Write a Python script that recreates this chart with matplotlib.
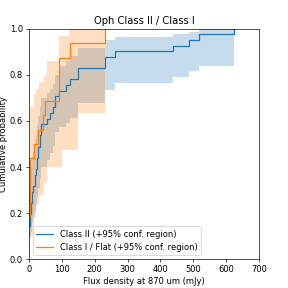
import matplotlib
matplotlib.use("Agg")
import matplotlib.pyplot as plt
import numpy as np

# Class II (blue) cumulative distribution
c2_x = [1, 5, 8, 11, 14, 18, 22, 25, 28, 33, 38, 54, 64, 74, 80, 92, 113, 125, 149, 231, 262, 437, 488, 516, 624]
c2_y = [0.146, 0.195, 0.244, 0.293, 0.317, 0.366, 0.390, 0.439, 0.488, 0.537, 0.585, 0.610, 0.634, 0.659,
        0.707, 0.732, 0.756, 0.780, 0.829, 0.878, 0.902, 0.927, 0.951, 0.976, 1.0]
c2_hi = [0.30, 0.35, 0.40, 0.45, 0.47, 0.52, 0.54, 0.58, 0.62, 0.66, 0.70, 0.72, 0.74, 0.76,
         0.80, 0.84, 0.86, 0.88, 0.916, 0.952, 0.964, 0.978, 0.986, 1.0, 1.0]
c2_lo = [0.06, 0.09, 0.12, 0.16, 0.18, 0.21, 0.23, 0.27, 0.31, 0.35, 0.40, 0.43, 0.46, 0.49,
         0.55, 0.575, 0.59, 0.615, 0.677, 0.735, 0.764, 0.789, 0.815, 0.839, 0.839]

# Class I / Flat (orange) cumulative distribution
c1_x = [1, 3, 15, 28, 43, 49, 92, 125, 231]
c1_y = [0.1875, 0.4375, 0.5, 0.5625, 0.625, 0.6875, 0.875, 0.9375, 1.0]
c1_band_x = [1, 3, 16, 21, 31, 47, 54, 92, 100, 123, 150, 231]
c1_hi = [0.45, 0.66, 0.716, 0.74, 0.767, 0.80, 0.861, 0.97, 0.97, 1.0, 1.0, 1.0]
c1_lo = [0.02, 0.10, 0.20, 0.24, 0.28, 0.33, 0.40, 0.40, 0.474, 0.474, 0.633, 0.633]

fig = plt.figure(figsize=(4.8, 4.8), dpi=60)
ax = fig.add_axes([0.1, 0.1, 0.8, 0.8])

ax.fill_between(c2_x, c2_lo, c2_hi, step='post', color='C0', alpha=0.25, linewidth=0)
ax.step(c2_x, c2_y, where='post', color='C0', label='Class II (+95% conf. region)')
ax.fill_between(c1_band_x, c1_lo, c1_hi, step='post', color='C1', alpha=0.25, linewidth=0)
ax.step(c1_x, c1_y, where='post', color='C1', label='Class I / Flat (+95% conf. region)')

ax.set_xlim(0, 700)
ax.set_ylim(0, 1)
ax.set_xticks(np.arange(0, 701, 100))
ax.set_yticks(np.arange(0, 1.01, 0.2))
ax.set_xlabel('Flux density at 870 um (mJy)')
ax.set_ylabel('Cumulative probability', labelpad=2)
ax.set_title('Oph Class II / Class I')
ax.legend(loc='lower left')

fig.savefig('out.png', dpi=60)
